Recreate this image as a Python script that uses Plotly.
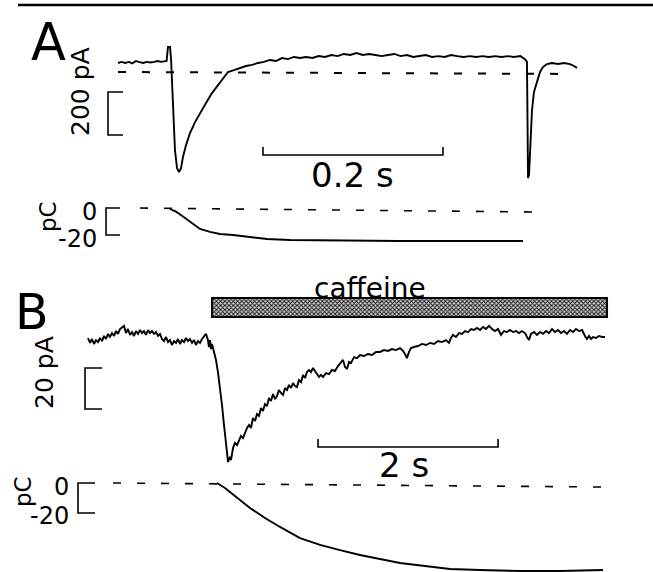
import plotly.graph_objects as go

# ---------------- DATA ----------------
# Panel A: membrane current (time in ms, current in pA)
A_T_MS = [0, 4, 8, 12, 16, 20, 24, 28, 32, 36, 40, 44, 48, 52, 54,
          55.5, 57.8, 59, 61.1, 63.3, 65.6, 67.8, 70, 72.2, 75.6, 80, 85.6, 91.1, 97.8, 104.4,
          111.1, 117.8, 122.2, 128.9, 135.6, 142.2, 148.9, 155.6, 162.2, 168.9, 175.6, 182.2, 188.9, 195.6, 202.2,
          209, 216, 223, 230, 237, 244, 251, 258, 265, 272, 279, 286, 293, 300, 307, 314, 321, 328, 335, 342,
          349, 356, 363, 370, 377, 384, 391, 398, 405, 412, 419, 426, 433, 440, 447,
          450, 452.2, 454.4, 455, 455.6, 456.7, 457.8, 460, 462.2, 464.4, 466.7, 468.9, 472.2, 476.7, 482.2,
          488.9, 495.6, 502.2, 506.7, 510]
A_I_PA = [42, 47, 42, 47, 40, 51, 46, 42, 47, 44, 47, 51, 47, 49, 51,
          116, 116, 56, -130, -363, -447, -465, -447, -395, -340, -284, -233, -191, -144, -98,
          -60, -23, 0, 9, 19, 28, 33, 42, 47, 56, 51, 65, 60, 70, 65,
          70, 65, 74, 70, 79, 74, 84, 79, 88, 79, 84, 79, 74, 79, 84, 74, 79, 70, 74, 79,
          70, 74, 70, 79, 74, 70, 74, 70, 74, 70, 74, 70, 74, 70, 74,
          65, 60, 47, -223, -493, -479, -363, -177, -93, -60, -28, 0, 23, 37, 42,
          37, 42, 37, 28, 19]
A_BASE_T_MS = [0, 499]
A_BASE_I_PA = [0, -9]

# Panel A: integrated charge (pC)
A_QT_MS = [57.8, 64.4, 71.1, 77.8, 84.4, 91.1, 102.2, 113.3, 127.8, 146.7, 165.6, 191.1, 224.4, 268.9, 313.3, 368.9, 450]
A_Q_PC = [0, -2, -5, -8.5, -12, -14.8, -17, -18.5, -19.3, -20.7, -22.2, -23, -23.3, -23.7, -23.7, -23.7, -23.7]
A_QBASE_T_MS = [24.4, 461]
A_QBASE_PC = [0.7, -2.2]

# Panel B: caffeine-evoked current (time in s, current in pA)
B_T_S = [0.000, 0.022, 0.044, 0.067, 0.089, 0.111, 0.133, 0.156, 0.178, 0.200, 0.222, 0.244, 0.267, 0.289, 0.311,
         0.333, 0.356, 0.378, 0.400, 0.422, 0.444, 0.467, 0.489, 0.511, 0.533, 0.556, 0.578, 0.600, 0.622, 0.644,
         0.667, 0.689, 0.711, 0.733, 0.756, 0.778, 0.800, 0.822, 0.844, 0.867, 0.889, 0.911, 0.933, 0.956, 0.978,
         1.000, 1.022, 1.044, 1.067, 1.089, 1.111, 1.133, 1.156, 1.178, 1.200, 1.222, 1.244, 1.267, 1.289, 1.311,
         1.333, 1.344, 1.356, 1.367, 1.378, 1.400, 1.422, 1.444, 1.467, 1.489, 1.511, 1.533, 1.556, 1.578, 1.589,
         1.611, 1.633, 1.656, 1.678, 1.700, 1.722, 1.744, 1.767, 1.789, 1.811, 1.833, 1.856, 1.878, 1.900, 1.922,
         1.944, 1.967, 1.989, 2.011, 2.033, 2.056, 2.078, 2.100, 2.122, 2.144, 2.167, 2.189, 2.211, 2.233, 2.256,
         2.278, 2.300, 2.322, 2.344, 2.367, 2.389, 2.411, 2.433, 2.456, 2.478, 2.500, 2.522, 2.544, 2.567, 2.589,
         2.611, 2.644, 2.678, 2.711, 2.744, 2.778, 2.811, 2.833, 2.856, 2.878, 2.900, 2.922, 2.956, 2.989, 3.022,
         3.067, 3.111, 3.156, 3.200, 3.244, 3.289, 3.333, 3.378, 3.422, 3.467, 3.500, 3.522, 3.544, 3.567, 3.589,
         3.622, 3.667, 3.711, 3.756, 3.800, 3.844, 3.889, 3.933, 3.978, 4.011, 4.033, 4.056, 4.089, 4.122, 4.156,
         4.189, 4.222, 4.256, 4.289, 4.322, 4.356, 4.389, 4.422, 4.456, 4.489, 4.522, 4.556, 4.589, 4.622, 4.656,
         4.689, 4.722, 4.756, 4.789, 4.822, 4.856, 4.878, 4.900, 4.922, 4.956, 4.989, 5.022, 5.056, 5.089, 5.122,
         5.156, 5.189, 5.222, 5.256, 5.289, 5.322, 5.356, 5.389, 5.422, 5.456, 5.489, 5.522, 5.544, 5.567, 5.589,
         5.611, 5.644, 5.678, 5.711, 5.744]
B_I_PA = [0, -2.4, -0.5, -2.9, -1.0, -2.0, 0, -1.5, 1.0, -0.5, 2.0, 0.5, 2.4, 1.0, 3.4,
          2.0, 4.4, 5.4, 5.9, 2.4, 4.4, 1.5, 2.9, 1.0, 3.4, 2.0, 3.9, 2.4, 3.4, 1.5,
          3.9, 2.4, 3.4, 2.0, 2.9, 1.0, 2.0, -0.5, -1.5, 0.5, -2.0, -1.0, -3.4, -1.5, -2.4,
          -0.5, -2.9, -1.0, -2.0, 0, -1.5, -0.5, -2.4, -1.0, -3.4, -1.5, -2.4, -0.5, 1.0, 2.0,
          -1.0, -4.4, -1.0, -5.4, -2.9, -6.8, -10.7, -16.6, -24.4, -32.7, -42.4, -52.2, -60.5, -58.0, -59.5,
          -53.7, -51.2, -52.2, -49.8, -47.8, -48.8, -45.9, -43.9, -42.4, -43.9, -39.0, -40.5, -37.1, -38.0, -34.1,
          -35.6, -32.2, -33.2, -29.3, -30.7, -27.3, -29.8, -28.3, -25.4, -26.8, -27.8, -24.4, -25.4, -22.9, -24.4,
          -22.0, -23.4, -23.9, -20.5, -21.5, -18.0, -19.5, -16.6, -15.6, -16.6, -14.6, -16.1, -17.6, -19.0, -18.0,
          -19.0, -17.1, -17.6, -15.6, -16.1, -13.7, -12.2, -10.7, -14.1, -15.1, -11.7, -12.2, -9.3, -9.8, -8.3,
          -8.8, -7.8, -8.3, -6.8, -6.8, -5.9, -6.3, -5.4, -5.9, -4.9, -6.3, -7.8, -9.8, -6.8, -4.9,
          -4.4, -3.9, -2.9, -3.4, -2.4, -2.9, -1.5, -2.0, -1.0, -2.4, 0, 1.5, 0.5, 2.4, 2.0,
          3.4, 2.9, 4.4, 3.9, 4.9, 3.9, 5.4, 4.4, 5.9, 4.4, 3.4, 4.4, 1.5, 3.4, 2.9,
          3.9, 2.9, 3.4, 2.4, 3.4, 2.4, 0.5, -1.0, 2.0, 2.9, 1.5, 2.9, 2.0, 3.4, 2.4,
          4.4, 2.9, 3.9, 2.4, 3.4, 2.0, 3.9, 2.9, 4.4, 3.4, 3.9, 1.0, -0.5, 1.0, -0.5,
          0.5, 0, 1.0, 0.5, 0.5]

# Panel B: integrated charge (pC)
B_QT_S = [1.433, 1.522, 1.633, 1.800, 1.967, 2.133, 2.356, 2.578, 2.800, 3.022, 3.244, 3.467, 3.744, 4.022, 4.356, 4.800, 5.244, 5.722]
B_Q_PC = [0, -3.3, -8.7, -16.7, -23.3, -29.3, -36.7, -41.3, -44.7, -48.0, -50.7, -53.3, -55.3, -57.3, -58.0, -58.7, -58.7, -58.0]
B_QBASE_T_S = [0.278, 5.744]
B_QBASE_PC = [0, -2.7]

# Caffeine application (s)
CAFFEINE_ON_S = 1.378
CAFFEINE_OFF_S = 5.767

# Scale bar values
A_I_SCALE_PA = 200
A_Q_SCALE_PC = 20
A_T_SCALE_MS = 200
B_I_SCALE_PA = 20
B_Q_SCALE_PC = 20
B_T_SCALE_S = 2

assert len(A_T_MS) == len(A_I_PA)
assert len(A_QT_MS) == len(A_Q_PC)
assert len(B_T_S) == len(B_I_PA), (len(B_T_S), len(B_I_PA))
assert len(B_QT_S) == len(B_Q_PC)

# ---------------- LAYOUT / CALIBRATION ----------------
W, H = 653, 572
FONT = "DejaVu Sans"
LW = 1.9


def xr(x0, s):
    return [(0 - x0) / s, (W - x0) / s]


def yr(y0, s):
    return [(y0 - H) / s, y0 / s]


def px(x):
    return x / W


def py(y):
    return 1 - y / H


fig = go.Figure()


def line(x, y, ax, dash=None, width=LW):
    fig.add_trace(go.Scatter(x=x, y=y, mode="lines", xaxis=ax[0], yaxis=ax[1],
                             line=dict(color="black", width=width, dash=dash),
                             hoverinfo="skip", showlegend=False))


AXI, AXQ, BXI, BXQ = ("x", "y"), ("x2", "y2"), ("x3", "y3"), ("x4", "y4")
DASH = "8px,16px"

# Panel A current
line(A_BASE_T_MS, A_BASE_I_PA, AXI, dash=DASH, width=2)
line(A_T_MS, A_I_PA, AXI)
ia_top = -93
line([5.6, -11.1, -11.1, 5.6], [ia_top, ia_top, ia_top - A_I_SCALE_PA, ia_top - A_I_SCALE_PA], AXI, width=1.6)
ta0 = 161.1
line([ta0, ta0, ta0 + A_T_SCALE_MS, ta0 + A_T_SCALE_MS], [-349, -386, -386, -349], AXI, width=1.6)

# Panel A charge
line(A_QBASE_T_MS, A_QBASE_PC, AXQ, dash=DASH, width=1.6)
line(A_QT_MS, A_Q_PC, AXQ)
qa_top = 0.7
line([2.2, -13.3, -13.3, 2.2], [qa_top, qa_top, qa_top - A_Q_SCALE_PC, qa_top - A_Q_SCALE_PC], AXQ, width=1.6)

# Panel B current
fig.add_trace(go.Bar(x=[CAFFEINE_OFF_S - CAFFEINE_ON_S], base=[CAFFEINE_ON_S], y=[14.9], width=[9.3],
                     orientation="h", xaxis="x3", yaxis="y3", showlegend=False, hoverinfo="skip",
                     marker=dict(color="#8a8a8a", line=dict(color="black", width=2),
                                 pattern=dict(shape="x", size=3, solidity=0.55, fgcolor="#1a1a1a",
                                              bgcolor="#d8d8d8", fillmode="replace"))))
line(B_T_S, B_I_PA, BXI)
ib_top = -14.6
line([0.156, -0.033, -0.033, 0.156], [ib_top, ib_top, ib_top - B_I_SCALE_PA, ib_top - B_I_SCALE_PA], BXI, width=1.6)
tb0 = 2.556
line([tb0, tb0, tb0 + B_T_SCALE_S, tb0 + B_T_SCALE_S], [-49.3, -53.2, -53.2, -49.3], BXI, width=1.6)

# Panel B charge
line(B_QBASE_T_S, B_QBASE_PC, BXQ, dash=DASH, width=1.6)
line(B_QT_S, B_Q_PC, BXQ)
line([0.078, -0.111, -0.111, 0.078], [0, 0, -B_Q_SCALE_PC, -B_Q_SCALE_PC], BXQ, width=1.6)


def ax(rng, anchor):
    return dict(range=rng, domain=[0, 1], visible=False, fixedrange=True, anchor=anchor)


annos = []


def text(t, x, y, size, angle=0, xanchor="center", yanchor="middle"):
    annos.append(dict(text=t, x=px(x), y=py(y), xref="paper", yref="paper", showarrow=False,
                      textangle=angle, xanchor=xanchor, yanchor=yanchor,
                      font=dict(family=FONT, size=size, color="black")))


text("A", 48, 42, 51)
text("200 pA", 80, 92, 25, angle=-90)
text("0.2 s", 352, 175, 34)
text("pC", 48, 217, 23, angle=-90)
text("0", 99, 212, 24, xanchor="right")
text("-20", 99, 239, 24, xanchor="right")
text("B", 32, 312, 49)
text("20 pA", 44, 373, 25, angle=-90)
text("caffeine", 370, 288, 28)
text("2 s", 404, 465, 34)
text("pC", 23, 492, 23, angle=-90)
text("0", 71, 487, 24, xanchor="right")
text("-20", 71, 516, 24, xanchor="right")

fig.update_layout(
    width=W, height=H, margin=dict(l=0, r=0, t=0, b=0),
    paper_bgcolor="white", plot_bgcolor="rgba(0,0,0,0)",
    showlegend=False, hovermode=False, barmode="overlay",
    xaxis=ax(xr(118, 0.9), "y"), yaxis=ax(yr(72, 0.215), "x"),
    xaxis2=ax(xr(118, 0.9), "y2"), yaxis2=ax(yr(209, 1.35), "x2"),
    xaxis3=ax(xr(88, 90), "y3"), yaxis3=ax(yr(338, 2.05), "x3"),
    xaxis4=ax(xr(88, 90), "y4"), yaxis4=ax(yr(483, 1.5), "x4"),
    annotations=annos,
    shapes=[dict(type="line", xref="paper", yref="paper", x0=px(18), x1=1, y0=py(5), y1=py(5),
                 line=dict(color="black", width=2.5))],
)

fig.write_html("out.html", config={"staticPlot": True},
               post_script="document.body.style.margin='0';document.body.style.overflow='hidden';")
